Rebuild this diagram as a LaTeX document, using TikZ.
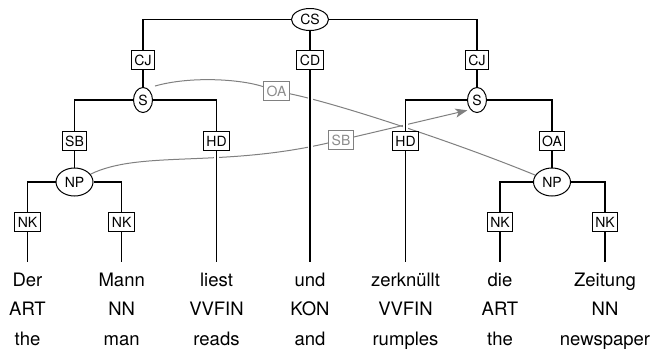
\documentclass[tikz,border=0pt]{standalone}
\usepackage{fontspec}
\setmainfont{TeX Gyre Heros}
\usetikzlibrary{shapes.geometric,arrows.meta,backgrounds}
\definecolor{secgray}{RGB}{128,128,128}
\definecolor{seclabel}{RGB}{140,140,140}

\begin{document}
\begin{tikzpicture}[x=1pt,y=-1pt,
  cat/.style={ellipse,draw,line width=1pt,fill=white,inner sep=0pt,
    font=\fontsize{14}{14}\selectfont},
  catS/.style={cat,minimum width=19pt,minimum height=25pt},
  catNP/.style={cat,minimum width=37pt,minimum height=28pt},
  fn/.style={rectangle,draw,line width=1pt,fill=white,inner xsep=3pt,
    inner ysep=0pt,minimum height=19pt,font=\fontsize{14}{14}\selectfont},
  secfn/.style={fn,draw=secgray,text=seclabel},
  tok/.style={anchor=base,inner sep=0pt,font=\fontsize{18.5}{20}\selectfont},
  branch/.style={draw=black,line width=1.05pt,
    preaction={draw=white,line width=5pt}},
  secedge/.style={draw=secgray,line width=1pt},
]
\useasboundingbox (0,0) rectangle (651,351);

% category nodes
\node[cat,minimum width=37pt,minimum height=22pt] (cs) at (310,19.5) {CS};
\node[catS] (s1) at (143,100) {S};
\node[catS] (s2) at (477,100) {S};
\node[catNP] (np1) at (74.5,182) {NP};
\node[catNP] (np2) at (552,182) {NP};

% function labels of the primary edges
\node[fn] (cj1) at (143,60) {CJ};
\node[fn] (cd)  at (310,60) {CD};
\node[fn] (cj2) at (477,60) {CJ};
\node[fn] (sb1) at (74.5,141) {SB};
\node[fn] (hd1) at (216.5,141) {HD};
\node[fn] (hd2) at (405.5,141) {HD};
\node[fn] (oa1) at (552,141) {OA};
\node[fn] (nk1) at (27.5,222) {NK};
\node[fn] (nk2) at (121.7,222) {NK};
\node[fn] (nk3) at (500,222) {NK};
\node[fn] (nk4) at (605,222) {NK};

% labels of the secondary edges
\node[secfn] (oaL) at (276.5,91) {OA};
\node[secfn] (sbL) at (341,140) {SB};

% terminals: word, part of speech, gloss
\foreach \i/\x/\w/\p/\g in {1/27.5/Der/ART/the, 2/121.7/Mann/NN/man,
    3/216.5/liest/VVFIN/reads, 4/310/und/KON/and,
    5/405.5/zerknüllt/VVFIN/rumples, 6/500/die/ART/the,
    7/605/Zeitung/NN/newspaper}{
  \coordinate (t\i) at (\x,262);
  \node[tok] (w\i) at (\x,286) {\w};
  \node[tok] (p\i) at (\x,315.5) {\p};
  \node[tok] (g\i) at (\x,345.5) {\g};
}

\begin{scope}[on background layer]
  \fill[white] (0,0) rectangle (651,351);
  % secondary edges
  \draw[secedge,shorten <=8pt] (s1.70) .. controls (190,76) and (240,79) .. (oaL);
  \draw[secedge] (oaL) .. controls (339,104) and (457,143) .. (np2);
  \draw[secedge] (np1) .. controls (140,150) and (220,168) .. (sbL);
  \draw[secedge,-{Stealth[length=12pt,width=9pt,inset=3pt]},shorten >=3pt]
    (sbL) -- (s2.235);
  % primary edges
  \draw[branch] (cs) -| (cj1);
  \draw[branch] (cs) -| (cj2);
  \draw[branch] (cs) -- (cd);
  \draw[branch] (cd) -- (t4);
  \draw[branch] (cj1) -- (s1);
  \draw[branch] (cj2) -- (s2);
  \draw[branch] (s1) -| (sb1);
  \draw[branch] (s1) -| (hd1);
  \draw[branch] (hd1) -- (t3);
  \draw[branch] (sb1) -- (np1);
  \draw[branch] (np1) -| (nk1);
  \draw[branch] (np1) -| (nk2);
  \draw[branch] (nk1) -- (t1);
  \draw[branch] (nk2) -- (t2);
  \draw[branch] (s2) -| (hd2);
  \draw[branch] (s2) -| (oa1);
  \draw[branch] (hd2) -- (t5);
  \draw[branch] (oa1) -- (np2);
  \draw[branch] (np2) -| (nk3);
  \draw[branch] (np2) -| (nk4);
  \draw[branch] (nk3) -- (t6);
  \draw[branch] (nk4) -- (t7);
\end{scope}
\end{tikzpicture}
\end{document}
